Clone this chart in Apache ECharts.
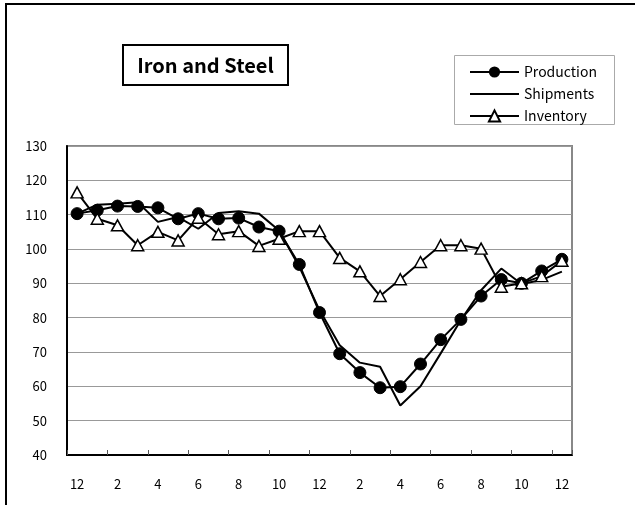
<!DOCTYPE html>
<html>
<head>
<meta charset="utf-8">
<script src="https://cdn.jsdelivr.net/npm/echarts@6/dist/echarts.min.js"></script>
<style>
html,body{margin:0;padding:0;background:#fff;}
#chart{width:635px;height:505px;}
</style>
</head>
<body>
<div id="chart"></div>
<script>
var months = ['12','1','2','3','4','5','6','7','8','9','10','11','12','1','2','3','4','5','6','7','8','9','10','11','12'];
var production = [110.3,111.3,112.5,112.4,112.0,108.8,110.3,108.8,109.0,106.4,105.2,95.5,81.5,69.5,64.0,59.6,59.9,66.5,73.6,79.5,86.3,91.1,90.0,93.6,97.0];
var shipments = [110.3,112.9,113.2,113.6,107.9,109.3,105.9,110.5,111.0,110.3,105.4,94.8,82.2,72.0,66.9,65.7,54.4,60.0,69.6,79.3,88.0,94.3,89.8,91.0,93.4];
var inventory = [116.5,108.8,106.9,101.1,105.0,102.5,109.1,104.3,105.2,100.9,103.0,105.2,105.2,97.4,93.5,86.3,91.2,96.2,101.1,101.1,100.1,89.0,90.0,92.1,96.6];
var titleText = 'Iron and Steel';
var seriesNames = ['Production','Shipments','Inventory'];

var FONT = '"Noto Sans CJK JP", "Noto Sans", sans-serif';
var LINE_ICON = 'path://M0,0 L0.01,0 L0,0.01 Z M0,6 L49,6 L49,8 L0,8 Z M49,14 L48.99,14 L49,13.99 Z';
var chart = echarts.init(document.getElementById('chart'), null, {renderer:'canvas'});
chart.setOption({
  animation:false,
  backgroundColor:'#fff',
  textStyle:{fontFamily:FONT},
  grid:{left:67,right:63,top:146,bottom:50,show:true,borderColor:'#888',borderWidth:2,backgroundColor:'transparent'},
  graphic:[
    {type:'rect',shape:{x:6,y:4,width:700,height:600},style:{fill:'none',stroke:'#000',lineWidth:2},silent:true,z:-1},
    {type:'rect',shape:{x:123,y:45,width:165,height:40},style:{fill:'#fff',stroke:'#000',lineWidth:2}},
    {type:'text',x:205.5,y:65,style:{text:titleText,fontFamily:FONT,fontWeight:'bold',fontSize:20,fill:'#000',textAlign:'center',textVerticalAlign:'middle'}},
    {type:'rect',shape:{x:454.5,y:55.5,width:160,height:69},style:{fill:'#fff',stroke:'#aaa',lineWidth:1}}
  ],
  legend:{
    orient:'vertical',left:469,top:65,itemWidth:49,itemHeight:14,itemGap:8,padding:0,
    textStyle:{fontFamily:FONT,fontSize:14,color:'#000'},
    data:[
      {name:seriesNames[0]},
      {name:seriesNames[1],icon:LINE_ICON,itemStyle:{color:'#000',borderWidth:0}},
      {name:seriesNames[2]}
    ]
  },
  xAxis:{
    type:'category',data:months,boundaryGap:true,
    axisLine:{lineStyle:{color:'#000',width:2}},
    axisTick:{show:true,inside:true,length:5,interval:1,lineStyle:{color:'#555',width:1}},
    axisLabel:{interval:1,margin:23,fontSize:13,color:'#000',fontFamily:FONT},
    splitLine:{show:false}
  },
  yAxis:{
    type:'value',min:40,max:130,interval:10,
    axisLine:{show:true,lineStyle:{color:'#000',width:2}},
    axisTick:{show:false},
    axisLabel:{margin:20,fontSize:13,color:'#000',fontFamily:FONT},
    splitLine:{show:true,lineStyle:{color:'#999',width:1}}
  },
  series:[
    {name:seriesNames[0],type:'line',data:production,symbol:'circle',symbolSize:12,
     lineStyle:{color:'#000',width:2},itemStyle:{color:'#000',borderColor:'#000'},z:3},
    {name:seriesNames[1],type:'line',data:shipments,symbol:'none',showSymbol:false,
     lineStyle:{color:'#000',width:2},itemStyle:{color:'#000'},z:2},
    {name:seriesNames[2],type:'line',data:inventory,symbol:'triangle',symbolSize:[12,11],
     lineStyle:{color:'#000',width:2},itemStyle:{color:'#fff',borderColor:'#000',borderWidth:1.5},z:4}
  ]
});
</script>
</body>
</html>
